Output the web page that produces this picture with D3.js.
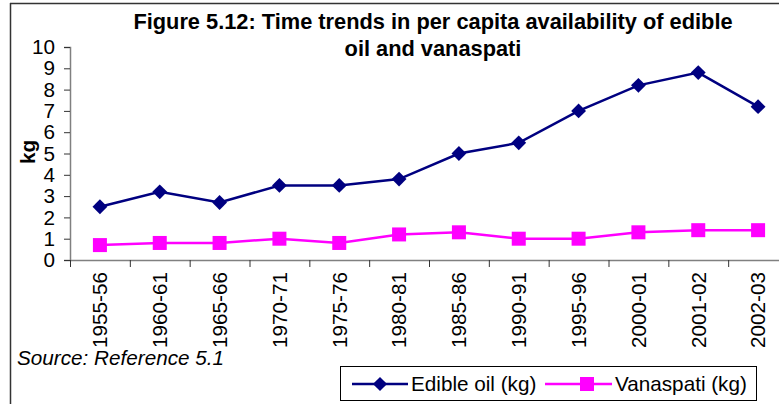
<!DOCTYPE html>
<html>
<head>
<meta charset="utf-8">
<script src="https://cdn.jsdelivr.net/npm/d3@7"></script>
<style>
  html, body { margin: 0; padding: 0; background: #fff; }
  svg { display: block; font-family: "Liberation Sans", Arial, sans-serif; }
</style>
</head>
<body>
<svg id="chart" width="779" height="404"></svg>
<script>
const categories = ["1955-56","1960-61","1965-66","1970-71","1975-76","1980-81","1985-86","1990-91","1995-96","2000-01","2001-02","2002-03"];
const edibleOil = [2.5, 3.2, 2.7, 3.5, 3.5, 3.8, 5.0, 5.5, 7.0, 8.2, 8.8, 7.2];
const vanaspati = [0.7, 0.8, 0.8, 1.0, 0.8, 1.2, 1.3, 1.0, 1.0, 1.3, 1.4, 1.4];
const yTicks = [0,1,2,3,4,5,6,7,8,9,10];
const seriesNames = ["Edible oil (kg)", "Vanaspati (kg)"];
const titleLines = ["Figure 5.12: Time trends in per capita availability of edible", "oil and vanaspati"];
const yLabel = "kg";
const sourceText = "Source: Reference 5.1";

const svg = d3.select("#chart");
const NAVY = "#000080", MAG = "#FF00FF";
const FS = 20.7;

// chart border (left and top visible; rest cropped)
svg.append("line").attr("x1",10.5).attr("x2",10.5).attr("y1",3).attr("y2",404).attr("stroke","#333").attr("stroke-width",1.5);
svg.append("line").attr("x1",10).attr("x2",779).attr("y1",3.5).attr("y2",3.5).attr("stroke","#333").attr("stroke-width",1.5);

const x = d3.scaleBand().domain(categories).range([70, 788]);
const y = d3.scaleLinear().domain([0, 10]).range([260, 47]);

// title
svg.append("text").attr("x",433).attr("y",29).attr("text-anchor","middle")
  .attr("font-size",21.8).attr("font-weight","bold").text(titleLines[0]);
svg.append("text").attr("x",433).attr("y",56).attr("text-anchor","middle")
  .attr("font-size",21.8).attr("font-weight","bold").text(titleLines[1]);

// y axis
const yAxis = svg.append("g").attr("transform","translate(70,0)")
  .call(d3.axisLeft(y).tickValues(yTicks).tickSize(6).tickPadding(9).tickFormat(d3.format("d")));
yAxis.select(".domain").attr("stroke","#808080").attr("stroke-width",1.5);
yAxis.selectAll(".tick line").attr("stroke","#333");
yAxis.selectAll(".tick text").attr("font-size",FS).attr("fill","#000").attr("font-family","Liberation Sans, Arial, sans-serif");

// x axis
const xAxis = svg.append("g").attr("transform","translate(0,260)")
  .call(d3.axisBottom(x).tickSize(0).tickFormat(d => d));
xAxis.select(".domain").attr("stroke","#808080").attr("stroke-width",1.5);
xAxis.selectAll(".tick text")
  .attr("font-size",FS).attr("fill","#000").attr("font-family","Liberation Sans, Arial, sans-serif")
  .attr("transform","rotate(-90)").attr("text-anchor","end")
  .attr("x",-12).attr("y",0).attr("dy","0.35em");
// boundary ticks between categories
const bounds = categories.map(c => x(c)).concat([x(categories[categories.length-1]) + x.bandwidth()]);
svg.append("g").selectAll("line").data(bounds).join("line")
  .attr("x1", d => d + 0.5).attr("x2", d => d + 0.5).attr("y1",260).attr("y2",267)
  .attr("stroke","#333").attr("stroke-width",1);

// y label
svg.append("text").attr("transform","translate(35,152) rotate(-90)").attr("text-anchor","middle")
  .attr("font-size",FS).attr("font-weight","bold").text(yLabel);

const cx = d => x(d) + x.bandwidth()/2;
const line = d3.line().x((d,i) => cx(categories[i])).y(d => y(d));

// edible oil
svg.append("path").datum(edibleOil).attr("d", line).attr("fill","none").attr("stroke",NAVY).attr("stroke-width",2.5);
svg.append("g").selectAll("path").data(edibleOil).join("path")
  .attr("d", d3.symbol().type(d3.symbolSquare).size(110))
  .attr("transform",(d,i) => `translate(${cx(categories[i])},${y(d)}) rotate(45)`)
  .attr("fill",NAVY);

// vanaspati
svg.append("path").datum(vanaspati).attr("d", line).attr("fill","none").attr("stroke",MAG).attr("stroke-width",2.5);
svg.append("g").selectAll("rect").data(vanaspati).join("rect")
  .attr("x",(d,i) => cx(categories[i]) - 7).attr("y", d => y(d) - 7)
  .attr("width",14).attr("height",14).attr("fill",MAG);

// source
svg.append("text").attr("x",17).attr("y",365).attr("font-size",FS).attr("font-style","italic").text(sourceText);

// legend
const lg = svg.append("g");
lg.append("rect").attr("x",340.5).attr("y",366.5).attr("width",416).attr("height",34)
  .attr("fill","#fff").attr("stroke","#000").attr("stroke-width",1);
const ly = 384;
lg.append("line").attr("x1",352).attr("x2",408).attr("y1",ly).attr("y2",ly).attr("stroke",NAVY).attr("stroke-width",2.5);
lg.append("path").attr("d", d3.symbol().type(d3.symbolSquare).size(100)).attr("transform",`translate(380,${ly}) rotate(45)`).attr("fill",NAVY);
lg.append("text").attr("x",411).attr("y",ly).attr("dy","0.35em").attr("font-size",FS).text(seriesNames[0]);
lg.append("line").attr("x1",545).attr("x2",612).attr("y1",ly).attr("y2",ly).attr("stroke",MAG).attr("stroke-width",2.5);
lg.append("rect").attr("x",580).attr("y",ly-7).attr("width",14).attr("height",14).attr("fill",MAG);
lg.append("text").attr("x",615).attr("y",ly).attr("dy","0.35em").attr("font-size",FS).text(seriesNames[1]);
</script>
</body>
</html>
